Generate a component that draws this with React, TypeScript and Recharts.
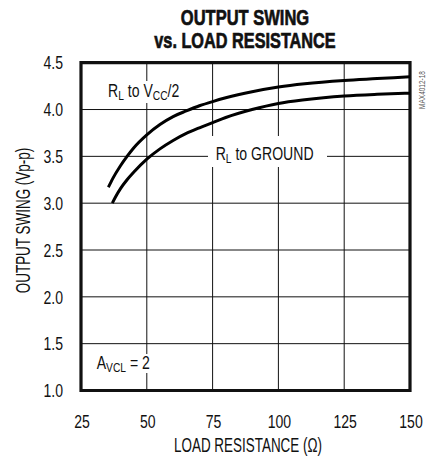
import React from "react";
import {
  LineChart,
  Line,
  XAxis,
  YAxis,
  CartesianGrid,
  ReferenceArea,
  Customized,
} from "recharts";

const xTicks = [25, 50, 75, 100, 125, 150];
const yTicks = [1.0, 1.5, 2.0, 2.5, 3.0, 3.5, 4.0, 4.5];

// R_L to VCC/2
const vccRes = [35.4, 37, 40, 42.5, 45, 50, 55, 60, 65, 70, 75, 80, 90, 100, 110, 125, 137.5, 150];
const vccSwing = [3.17, 3.26, 3.4, 3.5, 3.59, 3.73, 3.84, 3.925, 3.985, 4.04, 4.085, 4.125, 4.19, 4.24, 4.275, 4.31, 4.33, 4.35];

// R_L to GROUND
const gndRes = [36.9, 38, 40, 42.5, 45, 50, 55, 60, 65, 70, 75, 80, 90, 100, 110, 125, 137.5, 150];
const gndSwing = [3.0, 3.06, 3.155, 3.25, 3.33, 3.47, 3.58, 3.67, 3.745, 3.805, 3.86, 3.915, 4.0, 4.065, 4.105, 4.145, 4.163, 4.175];

const vccData = vccRes.map((r, i) => ({ r, v: vccSwing[i] }));
const gndData = gndRes.map((r, i) => ({ r, v: gndSwing[i] }));

const FONT = "'Liberation Sans', Arial, Helvetica, sans-serif";

const NText = ({
  x,
  y,
  sx = 0.76,
  rotate = 0,
  anchor = "start",
  size = 18.5,
  weight = 400,
  fill = "#111",
  stroke,
  children,
}: any) => (
  <g transform={`translate(${x},${y}) rotate(${rotate}) scale(${sx},1)`}>
    <text
      x={0}
      y={0}
      textAnchor={anchor}
      fontFamily={FONT}
      fontSize={size}
      fontWeight={weight}
      fill={fill}
      stroke={stroke}
      strokeWidth={stroke ? 0.7 : undefined}
    >
      {children}
    </text>
  </g>
);

const YTick = (props: any) => {
  const { x, y, payload } = props;
  return (
    <NText x={x} y={y + 6.7} anchor="end" size={18.5} sx={0.76}>
      {Number(payload.value).toFixed(1)}
    </NText>
  );
};

const XTick = (props: any) => {
  const { x, y, payload } = props;
  return (
    <NText x={x + 1} y={y + 37} anchor="middle" size={18.5} sx={0.76}>
      {payload.value}
    </NText>
  );
};

const Annotations = () => (
  <g>
    <NText x={245} y={25} anchor="middle" size={22} weight={700} sx={0.75} stroke="#111">
      OUTPUT SWING
    </NText>
    <NText x={245} y={48.3} anchor="middle" size={22} weight={700} sx={0.74} stroke="#111">
      vs. LOAD RESISTANCE
    </NText>
    <NText x={248} y={451.7} anchor="middle" size={19.5} sx={0.69}>
      LOAD RESISTANCE (Ω)
    </NText>
    <NText x={30} y={220.5} rotate={-90} anchor="middle" size={19.5} sx={0.69}>
      OUTPUT SWING (Vp-p)
    </NText>
    <NText x={425} y={90} rotate={-90} anchor="middle" size={9} sx={0.72} fill="#555">
      MAX4012-18
    </NText>

    <rect x={104} y={81} width={82} height={22} fill="#fff" />
    <NText x={108} y={96.7} size={18.5} sx={0.76}>
      R<tspan fontSize={13.5} dy={3}>L</tspan>
      <tspan dy={-3}> to V</tspan>
      <tspan fontSize={13.5} dy={3}>CC</tspan>
      <tspan dy={-3}>/2</tspan>
    </NText>

    <rect x={208} y={136} width={119} height={31} fill="#fff" />
    <NText x={215.7} y={160} size={18.5} sx={0.76}>
      R<tspan fontSize={13.5} dy={3}>L</tspan>
      <tspan dy={-3}> to GROUND</tspan>
    </NText>

    <rect x={93} y={354} width={64} height={19} fill="#fff" />
    <NText x={96.7} y={369.3} size={18.5} sx={0.76}>
      A<tspan fontSize={13.5} dy={3}>VCL</tspan>
      <tspan dy={-3}> = 2</tspan>
    </NText>
  </g>
);

export default function App() {
  return (
    <div style={{ position: "absolute", left: 0, top: 0, width: 435, height: 457, background: "#fff" }}>
      <LineChart
        width={435}
        height={457}
        margin={{ top: 62.7, right: 25, left: 21, bottom: 36.5 }}
      >
        <CartesianGrid stroke="#111" strokeWidth={1} strokeDasharray="" />
        <XAxis
          dataKey="r"
          type="number"
          domain={[25, 150]}
          ticks={xTicks}
          allowDataOverflow
          axisLine={false}
          tickLine={false}
          tickSize={0}
          tickMargin={0}
          height={30}
          tick={<XTick />}
        />
        <YAxis
          type="number"
          domain={[1, 4.5]}
          ticks={yTicks}
          allowDataOverflow
          axisLine={false}
          tickLine={false}
          tickSize={0}
          tickMargin={18}
          width={60}
          tick={<YTick />}
        />
        <ReferenceArea
          x1={25}
          x2={150}
          y1={1}
          y2={4.5}
          fill="none"
          fillOpacity={0}
          stroke="#111"
          strokeWidth={3.2}
          ifOverflow="visible"
        />
        <Line
          data={vccData}
          dataKey="v"
          type="monotone"
          stroke="#000"
          strokeWidth={3}
          dot={false}
          isAnimationActive={false}
        />
        <Line
          data={gndData}
          dataKey="v"
          type="monotone"
          stroke="#000"
          strokeWidth={3}
          dot={false}
          isAnimationActive={false}
        />
        <Customized component={Annotations} />
      </LineChart>
    </div>
  );
}
